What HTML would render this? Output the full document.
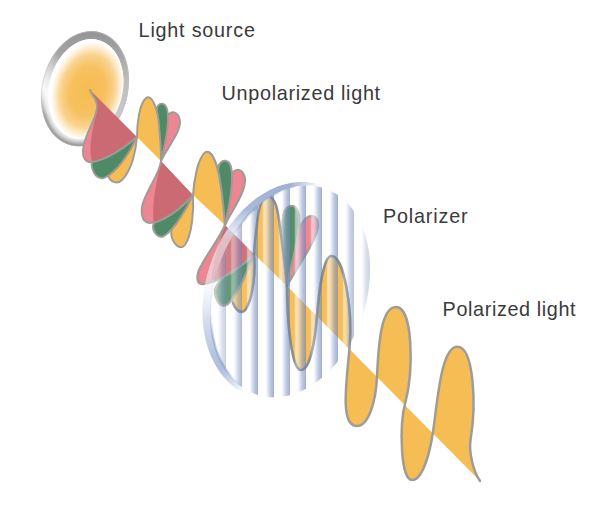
<!DOCTYPE html>
<html><head><meta charset="utf-8"><title>Polarization of light</title>
<style>
html,body{margin:0;padding:0;background:#fff;}
body{width:600px;height:510px;overflow:hidden;}
svg{display:block;}
.lbl{font-family:"Liberation Sans",sans-serif;font-size:19.8px;fill:#3a3a3a;}
</style></head>
<body>
<svg width="600" height="510" viewBox="0 0 600 510">

<defs>
  <radialGradient id="glow" cx="53%" cy="51%" r="50%">
    <stop offset="0" stop-color="#F6BC52"/>
    <stop offset="0.48" stop-color="#F7C15F"/>
    <stop offset="0.72" stop-color="#F9D38F"/>
    <stop offset="0.88" stop-color="#FDF0D8"/>
    <stop offset="0.97" stop-color="#ffffff"/>
    <stop offset="1" stop-color="#ffffff"/>
  </radialGradient>
  <linearGradient id="rimFront" gradientUnits="userSpaceOnUse" x1="0" y1="31" x2="0" y2="131">
    <stop offset="0" stop-color="#949494"/>
    <stop offset="0.24" stop-color="#a6a6a6"/>
    <stop offset="0.5" stop-color="#bebebe"/>
    <stop offset="0.9" stop-color="#cacaca"/>
    <stop offset="1" stop-color="#d0d0d0"/>
  </linearGradient>
  <linearGradient id="ringMaskG" gradientUnits="userSpaceOnUse" x1="42" y1="90" x2="69" y2="66.2">
    <stop offset="0" stop-color="#ffffff" stop-opacity="0"/>
    <stop offset="0.5" stop-color="#ffffff" stop-opacity="0.5"/>
    <stop offset="1" stop-color="#ffffff" stop-opacity="1"/>
  </linearGradient>
  <mask id="ringMask" maskUnits="userSpaceOnUse" x="0" y="0" width="200" height="200"><rect x="0" y="0" width="200" height="200" fill="url(#ringMaskG)"/></mask>
  <linearGradient id="softMaskG" gradientUnits="userSpaceOnUse" x1="0" y1="88" x2="0" y2="116">
    <stop offset="0" stop-color="#ffffff" stop-opacity="0"/>
    <stop offset="0.4" stop-color="#ffffff" stop-opacity="0.4"/>
    <stop offset="1" stop-color="#ffffff" stop-opacity="1"/>
  </linearGradient>
  <mask id="softMask" maskUnits="userSpaceOnUse" x="0" y="0" width="200" height="200"><rect x="0" y="0" width="200" height="200" fill="url(#softMaskG)"/></mask>
  <radialGradient id="rimSoft" cx="50%" cy="50%" r="50%">
    <stop offset="0" stop-color="#ffffff"/>
    <stop offset="0.80" stop-color="#ffffff"/>
    <stop offset="0.9" stop-color="#dedede"/>
    <stop offset="0.965" stop-color="#a6a6a6"/>
    <stop offset="1" stop-color="#868686"/>
  </radialGradient>
  <linearGradient id="polRim" gradientUnits="userSpaceOnUse" x1="0" y1="181" x2="0" y2="399">
    <stop offset="0" stop-color="#9DB1D5"/>
    <stop offset="0.13" stop-color="#A9BAD9"/>
    <stop offset="0.21" stop-color="#D0DAEC" stop-opacity="0.85"/>
    <stop offset="0.27" stop-color="#F2F5FA" stop-opacity="0.6"/>
    <stop offset="0.5" stop-color="#EEF2F9" stop-opacity="0.6"/>
    <stop offset="0.64" stop-color="#D0D9EB" stop-opacity="0.9"/>
    <stop offset="0.8" stop-color="#B4C3DE"/>
    <stop offset="1" stop-color="#A9BAD9"/>
  </linearGradient>
  <linearGradient id="rimMaskG" gradientUnits="userSpaceOnUse" x1="276" y1="223" x2="302.6" y2="232.8">
    <stop offset="0" stop-color="#ffffff" stop-opacity="1"/>
    <stop offset="1" stop-color="#ffffff" stop-opacity="0"/>
  </linearGradient>
  <mask id="rimMask" maskUnits="userSpaceOnUse" x="150" y="150" width="300" height="300"><rect x="150" y="150" width="300" height="300" fill="url(#rimMaskG)"/></mask>
  <linearGradient id="stripeMaskG" gradientUnits="userSpaceOnUse" x1="200" y1="0" x2="370" y2="0">
    <stop offset="0" stop-color="#ffffff" stop-opacity="0.35"/>
    <stop offset="0.15" stop-color="#ffffff" stop-opacity="0.6"/>
    <stop offset="0.3" stop-color="#ffffff" stop-opacity="1"/>
    <stop offset="0.8" stop-color="#ffffff" stop-opacity="1"/>
    <stop offset="1" stop-color="#ffffff" stop-opacity="0.55"/>
  </linearGradient>
  <mask id="stripeMask" maskUnits="userSpaceOnUse" x="150" y="150" width="300" height="300"><rect x="150" y="150" width="300" height="300" fill="url(#stripeMaskG)"/></mask>
  <linearGradient id="edgeMaskG" gradientUnits="userSpaceOnUse" x1="0" y1="210" x2="0" y2="340">
    <stop offset="0" stop-color="#ffffff" stop-opacity="1"/>
    <stop offset="0.2" stop-color="#ffffff" stop-opacity="0.1"/>
    <stop offset="0.8" stop-color="#ffffff" stop-opacity="0.1"/>
    <stop offset="1" stop-color="#ffffff" stop-opacity="1"/>
  </linearGradient>
  <mask id="edgeMask" maskUnits="userSpaceOnUse" x="150" y="150" width="300" height="300"><rect x="150" y="150" width="300" height="300" fill="url(#edgeMaskG)"/></mask>
  <linearGradient id="polEdge" gradientUnits="userSpaceOnUse" x1="205" y1="0" x2="300" y2="0">
    <stop offset="0" stop-color="#91A6CE" stop-opacity="0.9"/>
    <stop offset="0.45" stop-color="#91A6CE" stop-opacity="0.8"/>
    <stop offset="1" stop-color="#91A6CE" stop-opacity="0"/>
  </linearGradient>
  <linearGradient id="polBase" x1="0" y1="0" x2="1" y2="0">
    <stop offset="0" stop-color="#ffffff" stop-opacity="0.5"/>
    <stop offset="0.12" stop-color="#ffffff" stop-opacity="0.3"/>
    <stop offset="0.22" stop-color="#ffffff" stop-opacity="0.05"/>
    <stop offset="1" stop-color="#ffffff" stop-opacity="0"/>
  </linearGradient>
  <linearGradient id="stripeG" x1="0" y1="0" x2="1" y2="0">
    <stop offset="0" stop-color="#ffffff" stop-opacity="0"/>
    <stop offset="0.26" stop-color="#ffffff" stop-opacity="0"/>
    <stop offset="0.36" stop-color="#ffffff" stop-opacity="0.5"/>
    <stop offset="0.48" stop-color="#ffffff" stop-opacity="0.5"/>
    <stop offset="0.78" stop-color="#869CC8" stop-opacity="0.55"/>
    <stop offset="1" stop-color="#6982B7" stop-opacity="0.64"/>
  </linearGradient>
  <pattern id="stripe" x="194" y="0" width="16" height="300" patternUnits="userSpaceOnUse">
    <rect x="0" y="0" width="16" height="300" fill="url(#stripeG)"/>
  </pattern>
  <clipPath id="polClip">
    <path d="M362.8,314.8 L359.6,323.7 L355.9,332.3 L351.7,340.7 L347.0,348.7 L341.9,356.2 L336.4,363.3 L330.6,369.8 L324.4,375.7 L318.0,381.0 L311.4,385.6 L304.6,389.5 L297.8,392.6 L290.8,394.9 L283.9,396.5 L277.0,397.3 L270.2,397.2 L263.6,396.4 L257.1,394.7 L250.9,392.3 L245.1,389.1 L239.5,385.2 L234.4,380.5 L229.7,375.2 L225.4,369.2 L221.7,362.7 L218.4,355.6 L215.8,348.0 L213.6,339.9 L212.1,331.5 L211.2,322.8 L210.8,313.9 L211.1,304.8 L212.0,295.6 L213.5,286.3 L215.5,277.1 L218.2,268.0 L221.4,259.1 L225.1,250.5 L229.3,242.1 L234.0,234.1 L239.1,226.6 L244.6,219.5 L250.4,213.0 L256.6,207.1 L263.0,201.8 L269.6,197.2 L276.4,193.3 L283.2,190.2 L290.2,187.9 L297.1,186.3 L304.0,185.5 L310.8,185.6 L317.4,186.4 L323.9,188.1 L330.1,190.5 L335.9,193.7 L341.5,197.6 L346.6,202.3 L351.3,207.6 L355.6,213.6 L359.3,220.1 L362.6,227.2 L365.2,234.8 L367.4,242.9 L368.9,251.3 L369.8,260.0 L370.2,268.9 L369.9,278.0 L369.0,287.2 L367.5,296.5 L365.5,305.7 Z"/>
  </clipPath>
</defs>

<rect width="600" height="510" fill="#ffffff"/>

<g id="source">
  <g mask="url(#softMask)"><ellipse cx="0" cy="0" rx="43" ry="58.4" transform="translate(85,88.7) rotate(14)" fill="url(#rimSoft)"/></g>
  <path d="M126.7,99.1 L125.3,104.0 L123.6,108.8 L121.6,113.4 L119.4,117.9 L116.8,122.1 L114.1,126.0 L111.1,129.7 L107.9,133.1 L104.5,136.1 L101.0,138.8 L97.4,141.1 L93.6,143.0 L89.8,144.5 L86.0,145.5 L82.2,146.1 L78.3,146.3 L74.6,146.1 L70.9,145.4 L67.3,144.2 L63.8,142.7 L60.6,140.7 L57.5,138.4 L54.6,135.7 L51.9,132.6 L49.5,129.2 L47.4,125.4 L45.5,121.4 L44.0,117.2 L42.7,112.7 L41.8,108.0 L41.2,103.2 L41.0,98.3 L41.0,93.3 L41.5,88.3 L42.2,83.3 L43.3,78.3 L44.7,73.4 L46.4,68.6 L48.4,64.0 L50.6,59.5 L53.2,55.3 L55.9,51.4 L58.9,47.7 L62.1,44.3 L65.5,41.3 L69.0,38.6 L72.6,36.3 L76.4,34.4 L80.2,32.9 L84.0,31.9 L87.8,31.3 L91.7,31.1 L95.4,31.3 L99.1,32.0 L102.7,33.2 L106.2,34.7 L109.4,36.7 L112.5,39.0 L115.4,41.7 L118.1,44.8 L120.5,48.2 L122.6,52.0 L124.5,56.0 L126.0,60.2 L127.3,64.7 L128.2,69.4 L128.8,74.2 L129.0,79.1 L129.0,84.1 L128.5,89.1 L127.8,94.1 Z M121.4,98.1 L120.2,102.4 L118.7,106.5 L117.0,110.6 L115.1,114.4 L112.9,118.1 L110.5,121.6 L107.9,124.8 L105.2,127.7 L102.3,130.3 L99.2,132.7 L96.1,134.7 L92.9,136.3 L89.7,137.6 L86.4,138.6 L83.1,139.1 L79.8,139.3 L76.6,139.1 L73.4,138.5 L70.3,137.5 L67.4,136.2 L64.6,134.5 L61.9,132.5 L59.5,130.1 L57.2,127.4 L55.2,124.5 L53.3,121.2 L51.8,117.8 L50.4,114.1 L49.4,110.2 L48.6,106.1 L48.1,102.0 L47.9,97.7 L48.0,93.4 L48.4,89.0 L49.1,84.6 L50.0,80.3 L51.2,76.0 L52.7,71.9 L54.4,67.8 L56.3,64.0 L58.5,60.3 L60.9,56.8 L63.5,53.6 L66.2,50.7 L69.1,48.1 L72.2,45.7 L75.3,43.7 L78.5,42.1 L81.7,40.8 L85.0,39.8 L88.3,39.3 L91.6,39.1 L94.8,39.3 L98.0,39.9 L101.1,40.9 L104.0,42.2 L106.8,43.9 L109.5,45.9 L111.9,48.3 L114.2,51.0 L116.2,53.9 L118.1,57.2 L119.6,60.6 L121.0,64.3 L122.0,68.2 L122.8,72.3 L123.3,76.4 L123.5,80.7 L123.4,85.0 L123.0,89.4 L122.3,93.8 Z" fill-rule="evenodd" fill="url(#rimFront)" mask="url(#ringMask)"/>
  <ellipse cx="0" cy="0" rx="42.5" ry="57.9" transform="translate(85,88.7) rotate(14)" fill="none" stroke="#c4c4c4" stroke-width="1" stroke-opacity="0.5"/>
  <ellipse cx="0" cy="0" rx="36.8" ry="50.8" transform="translate(85.7,89.2) rotate(14)" fill="url(#glow)"/>
</g>
<path d="M137,137 C136,150 132,170 122,180 C117,185 111,182 108,176 C100,160 120,145 137,137 Z" fill="#F6BD55" stroke="none" /><path d="M137,137 C136,150 132,170 122,180 C117,185 111,182 108,176 C100,160 120,145 137,137" fill="none" stroke="#9F9C96" stroke-width="1.9" stroke-linecap="round" stroke-linejoin="round" /><path d="M137,137 C130,153 117,172 105,177.5 C98,180.5 92.5,174 91.5,164 C95,150 120,145 137,137 Z" fill="#4F8A66" stroke="none" /><path d="M137,137 C130,153 117,172 105,177.5 C98,180.5 92.5,174 91.5,164 C95,150 120,145 137,137" fill="none" stroke="#9F9C96" stroke-width="1.9" stroke-linecap="round" stroke-linejoin="round" /><clipPath id="rc1"><path d="M90,90 C92,96 98,100 97,108 C96,120 84,135 83,150 C82.5,158 86,163 92,162 C106,160 124,148 137,137 Z"/></clipPath><path d="M90,90 C92,96 98,100 97,108 C96,120 84,135 83,150 C82.5,158 86,163 92,162 C106,160 124,148 137,137 Z" fill="#CC6A73"/><path d="M98,105 C96,120 80,135 80,150 L80,166 L93,164 C87,150 93,128 98,105 Z" fill="#EE8593" clip-path="url(#rc1)"/><path d="M90,90 C92,96 98,100 97,108 C96,120 84,135 83,150 C82.5,158 86,163 92,162 C106,160 124,148 137,137" fill="none" stroke="#9F9C96" stroke-width="1.9" stroke-linecap="round" stroke-linejoin="round"/><path d="M161,161 C166,150 181,132 180,121 C179,113 173,110 169,114 C163,120 163,145 161,161 Z" fill="#EE8593" stroke="none" /><path d="M161,161 C166,150 181,132 180,121 C179,113 173,110 169,114 C163,120 163,145 161,161" fill="none" stroke="#9F9C96" stroke-width="1.9" stroke-linecap="round" stroke-linejoin="round" /><path d="M161,161 C165,145 170,120 167,109 C165,102 159,102 157,108 C154,120 158,145 161,161 Z" fill="#4F8A66" stroke="none" /><path d="M161,161 C165,145 170,120 167,109 C165,102 159,102 157,108 C154,120 158,145 161,161" fill="none" stroke="#9F9C96" stroke-width="1.9" stroke-linecap="round" stroke-linejoin="round" /><path d="M137,137 C137,125 139,104 146,98 C152,94 157,108 158.5,120 C160,135 161,150 161,161 Z" fill="#F6BD55" stroke="none" /><path d="M137,137 C137,125 139,104 146,98 C152,94 157,108 158.5,120 C160,135 161,150 161,161" fill="none" stroke="#9F9C96" stroke-width="1.9" stroke-linecap="round" stroke-linejoin="round" /><path d="M193,195 C194,210 192,235 185,245 C181,250 175,246 172,238 C168,225 180,205 193,195 Z" fill="#F6BD55" stroke="none" /><path d="M193,195 C194,210 192,235 185,245 C181,250 175,246 172,238 C168,225 180,205 193,195" fill="none" stroke="#9F9C96" stroke-width="2.0" stroke-linecap="round" stroke-linejoin="round" /><path d="M193,195 C186,210 174,230 164,236 C158,239 153,232 153,226 C155,215 180,203 193,195 Z" fill="#4F8A66" stroke="none" /><path d="M193,195 C186,210 174,230 164,236 C158,239 153,232 153,226 C155,215 180,203 193,195" fill="none" stroke="#9F9C96" stroke-width="2.0" stroke-linecap="round" stroke-linejoin="round" /><clipPath id="rc2"><path d="M161,161 C160,172 150,185 144,200 C140,210 141,222 149,223 C163,223 182,208 193,195 Z"/></clipPath><path d="M161,161 C160,172 150,185 144,200 C140,210 141,222 149,223 C163,223 182,208 193,195 Z" fill="#CC6A73"/><path d="M161,161 L135,190 L135,228 L154,226 C151,205 157,180 161,161 Z" fill="#EE8593" clip-path="url(#rc2)"/><path d="M161,161 C160,172 150,185 144,200 C140,210 141,222 149,223 C163,223 182,208 193,195" fill="none" stroke="#9F9C96" stroke-width="2.0" stroke-linecap="round" stroke-linejoin="round"/><path d="M225,225 C231,212 246,192 245,179 C244,171 238,167 233,172 C226,180 226,208 225,225 Z" fill="#EE8593" stroke="none" /><path d="M225,225 C231,212 246,192 245,179 C244,171 238,167 233,172 C226,180 226,208 225,225" fill="none" stroke="#9F9C96" stroke-width="2.1" stroke-linecap="round" stroke-linejoin="round" /><path d="M225,225 C229,208 234,180 231,167 C229,159 222,159 219,165 C215,178 222,208 225,225 Z" fill="#4F8A66" stroke="none" /><path d="M225,225 C229,208 234,180 231,167 C229,159 222,159 219,165 C215,178 222,208 225,225" fill="none" stroke="#9F9C96" stroke-width="2.1" stroke-linecap="round" stroke-linejoin="round" /><path d="M193,195 C194,180 198,158 205,152.5 C211,148.5 216.5,162 219,175 C222.5,193 224,212 225,225 Z" fill="#F6BD55" stroke="none" /><path d="M193,195 C194,180 198,158 205,152.5 C211,148.5 216.5,162 219,175 C222.5,193 224,212 225,225" fill="none" stroke="#9F9C96" stroke-width="2.1" stroke-linecap="round" stroke-linejoin="round" /><path d="M254,254 C256,270 253,298 246,309 C242,315 236,311 233,303 C229,288 242,265 254,254 Z" fill="#F6BD55" stroke="none" /><path d="M254,254 C256,270 253,298 246,309 C242,315 236,311 233,303 C229,288 242,265 254,254" fill="none" stroke="#9F9C96" stroke-width="2.2" stroke-linecap="round" stroke-linejoin="round" /><path d="M254,254 C248,270 238,294 228,304 C221,310 215,300 215,290 C217,278 242,263 254,254 Z" fill="#4F8A66" stroke="none" /><path d="M254,254 C248,270 238,294 228,304 C221,310 215,300 215,290 C217,278 242,263 254,254" fill="none" stroke="#9F9C96" stroke-width="2.2" stroke-linecap="round" stroke-linejoin="round" /><clipPath id="rc3"><path d="M225,225 C220,238 206,255 199,270 C196,278 197,285 204,284 C222,281 244,265 254,254 Z"/></clipPath><path d="M225,225 C220,238 206,255 199,270 C196,278 197,285 204,284 C222,281 244,265 254,254 Z" fill="#CC6A73"/><path d="M225,225 L190,255 L190,290 L212,284 C210,268 219,245 225,225 Z" fill="#EE8593" clip-path="url(#rc3)"/><path d="M225,225 C220,238 206,255 199,270 C196,278 197,285 204,284 C222,281 244,265 254,254" fill="none" stroke="#9F9C96" stroke-width="2.2" stroke-linecap="round" stroke-linejoin="round"/><path d="M287,286 C295,270 318,240 318,225 C318,216 311,213 305,219 C295,230 290,265 287,286 Z" fill="#EE8593" stroke="none" /><path d="M287,286 C295,270 318,240 318,225 C318,216 311,213 305,219 C295,230 290,265 287,286" fill="none" stroke="#9F9C96" stroke-width="2.2" stroke-linecap="round" stroke-linejoin="round" /><path d="M287,286 C291,265 302,228 298.5,213 C296,203.5 288,203.5 284,212 C279,228 284,265 287,286 Z" fill="#4F8A66" stroke="none" /><path d="M287,286 C291,265 302,228 298.5,213 C296,203.5 288,203.5 284,212 C279,228 284,265 287,286" fill="none" stroke="#9F9C96" stroke-width="2.2" stroke-linecap="round" stroke-linejoin="round" /><path d="M254,254 C254.5,240 256.5,228 257.5,220 C259,207 262,196.3 268,196.3 C274.5,196.3 277.5,208 279,220 C282,243 285.5,268 287,286 Z" fill="#F6BD55" stroke="none" /><path d="M254,254 C254.5,240 256.5,228 257.5,220 C259,207 262,196.3 268,196.3 C274.5,196.3 277.5,208 279,220 C282,243 285.5,268 287,286" fill="none" stroke="#9F9C96" stroke-width="2.2" stroke-linecap="round" stroke-linejoin="round" /><path d="M287,286 C287,316 291,370 301,370 C310,370 315,341 317,316 C319,291 323.5,256 331.5,256 C344,256 352.9,310 349.5,348 C346.2,385 340,426 357,426 C369,426 376,400 377,377 C378.4,345 381,307 396,307 C413,307 414,370 405,404 C399.7,424 400,480 412,480 C423,480 430,452 433,432 C437.5,402 441,346.7 457.3,346.7 C474,346.7 476.5,405 470.5,440 C468.8,452 473,471 480,481 L287,286 Z" fill="#F6BD55" fill-rule="evenodd"/><path d="M287,286 C287,316 291,370 301,370 C310,370 315,341 317,316 C319,291 323.5,256 331.5,256 C344,256 352.9,310 349.5,348 C346.2,385 340,426 357,426 C369,426 376,400 377,377 C378.4,345 381,307 396,307 C413,307 414,370 405,404 C399.7,424 400,480 412,480 C423,480 430,452 433,432 C437.5,402 441,346.7 457.3,346.7 C474,346.7 476.5,405 470.5,440 C468.8,452 473,471 480,481" fill="none" stroke="#9F9C96" stroke-width="2.5" stroke-linecap="round" stroke-linejoin="round"/>
<g id="polarizer">
  <g mask="url(#rimMask)">
  <path d="M362.5,315.3 L359.2,324.4 L355.4,333.3 L351.1,341.8 L346.2,350.0 L340.9,357.7 L335.2,364.9 L329.1,371.5 L322.7,377.5 L316.0,382.9 L309.0,387.5 L301.9,391.4 L294.7,394.6 L287.4,396.9 L280.1,398.5 L272.9,399.2 L265.7,399.1 L258.7,398.2 L251.9,396.4 L245.4,393.9 L239.2,390.5 L233.3,386.4 L227.8,381.6 L222.8,376.1 L218.3,369.9 L214.3,363.1 L210.8,355.8 L207.9,348.0 L205.6,339.7 L203.9,331.1 L202.8,322.1 L202.4,313.0 L202.6,303.6 L203.4,294.1 L204.9,284.7 L207.0,275.2 L209.7,265.9 L213.0,256.8 L216.8,247.9 L221.1,239.4 L226.0,231.2 L231.3,223.5 L237.0,216.3 L243.1,209.7 L249.5,203.7 L256.2,198.3 L263.2,193.7 L270.3,189.8 L277.5,186.6 L284.8,184.3 L292.1,182.7 L299.3,182.0 L306.5,182.1 L313.5,183.0 L320.3,184.8 L326.8,187.3 L333.0,190.7 L338.9,194.8 L344.4,199.6 L349.4,205.1 L353.9,211.3 L357.9,218.1 L361.4,225.4 L364.3,233.2 L366.6,241.5 L368.3,250.1 L369.4,259.1 L369.8,268.2 L369.6,277.6 L368.8,287.1 L367.3,296.5 L365.2,306.0 Z M362.8,314.8 L359.6,323.7 L355.9,332.3 L351.7,340.7 L347.0,348.7 L341.9,356.2 L336.4,363.3 L330.6,369.8 L324.4,375.7 L318.0,381.0 L311.4,385.6 L304.6,389.5 L297.8,392.6 L290.8,394.9 L283.9,396.5 L277.0,397.3 L270.2,397.2 L263.6,396.4 L257.1,394.7 L250.9,392.3 L245.1,389.1 L239.5,385.2 L234.4,380.5 L229.7,375.2 L225.4,369.2 L221.7,362.7 L218.4,355.6 L215.8,348.0 L213.6,339.9 L212.1,331.5 L211.2,322.8 L210.8,313.9 L211.1,304.8 L212.0,295.6 L213.5,286.3 L215.5,277.1 L218.2,268.0 L221.4,259.1 L225.1,250.5 L229.3,242.1 L234.0,234.1 L239.1,226.6 L244.6,219.5 L250.4,213.0 L256.6,207.1 L263.0,201.8 L269.6,197.2 L276.4,193.3 L283.2,190.2 L290.2,187.9 L297.1,186.3 L304.0,185.5 L310.8,185.6 L317.4,186.4 L323.9,188.1 L330.1,190.5 L335.9,193.7 L341.5,197.6 L346.6,202.3 L351.3,207.6 L355.6,213.6 L359.3,220.1 L362.6,227.2 L365.2,234.8 L367.4,242.9 L368.9,251.3 L369.8,260.0 L370.2,268.9 L369.9,278.0 L369.0,287.2 L367.5,296.5 L365.5,305.7 Z" fill-rule="evenodd" fill="url(#polRim)"/>
  <g mask="url(#edgeMask)"><path d="M362.8,314.8 L359.6,323.7 L355.9,332.3 L351.7,340.7 L347.0,348.7 L341.9,356.2 L336.4,363.3 L330.6,369.8 L324.4,375.7 L318.0,381.0 L311.4,385.6 L304.6,389.5 L297.8,392.6 L290.8,394.9 L283.9,396.5 L277.0,397.3 L270.2,397.2 L263.6,396.4 L257.1,394.7 L250.9,392.3 L245.1,389.1 L239.5,385.2 L234.4,380.5 L229.7,375.2 L225.4,369.2 L221.7,362.7 L218.4,355.6 L215.8,348.0 L213.6,339.9 L212.1,331.5 L211.2,322.8 L210.8,313.9 L211.1,304.8 L212.0,295.6 L213.5,286.3 L215.5,277.1 L218.2,268.0 L221.4,259.1 L225.1,250.5 L229.3,242.1 L234.0,234.1 L239.1,226.6 L244.6,219.5 L250.4,213.0 L256.6,207.1 L263.0,201.8 L269.6,197.2 L276.4,193.3 L283.2,190.2 L290.2,187.9 L297.1,186.3 L304.0,185.5 L310.8,185.6 L317.4,186.4 L323.9,188.1 L330.1,190.5 L335.9,193.7 L341.5,197.6 L346.6,202.3 L351.3,207.6 L355.6,213.6 L359.3,220.1 L362.6,227.2 L365.2,234.8 L367.4,242.9 L368.9,251.3 L369.8,260.0 L370.2,268.9 L369.9,278.0 L369.0,287.2 L367.5,296.5 L365.5,305.7 Z" fill="none" stroke="url(#polEdge)" stroke-width="2.4"/></g>
  </g>
  <g clip-path="url(#polClip)">
    <rect x="190" y="170" width="200" height="240" fill="url(#polBase)"/>
    <rect x="194" y="170" width="200" height="240" fill="url(#stripe)" mask="url(#stripeMask)"/>
    <g fill="none" stroke="#66768F" stroke-opacity="0.42" stroke-width="2.6" stroke-linecap="round">
      <path d="M287,286 C287,316 291,370 301,370 C310,370 315,341 317,316 C319,291 323.5,256 331.5,256 C344,256 352.9,310 349.5,348 C346.2,385 340,426 357,426 C369,426 376,400 377,377 C378.4,345 381,307 396,307 C413,307 414,370 405,404 C399.7,424 400,480 412,480 C423,480 430,452 433,432 C437.5,402 441,346.7 457.3,346.7 C474,346.7 476.5,405 470.5,440 C468.8,452 473,471 480,481"/>
      <path d="M254,254 C254.5,240 256.5,228 257.5,220 C259,207 262,196.3 268,196.3 C274.5,196.3 277.5,208 279,220 C282,243 285.5,268 287,286"/>
      <path d="M254,254 C256,270 253,298 246,309 C242,315 236,311 233,303"/>
    </g>
  </g>
</g>


<text x="138.6" y="37" class="lbl" textLength="116.3" lengthAdjust="spacing">Light source</text>
<text x="221.6" y="100" class="lbl" textLength="158.5" lengthAdjust="spacing">Unpolarized light</text>
<text x="383" y="222.6" class="lbl" textLength="84.6" lengthAdjust="spacing">Polarizer</text>
<text x="442.6" y="315.7" class="lbl" textLength="133" lengthAdjust="spacing">Polarized light</text>

</svg>
</body></html>
